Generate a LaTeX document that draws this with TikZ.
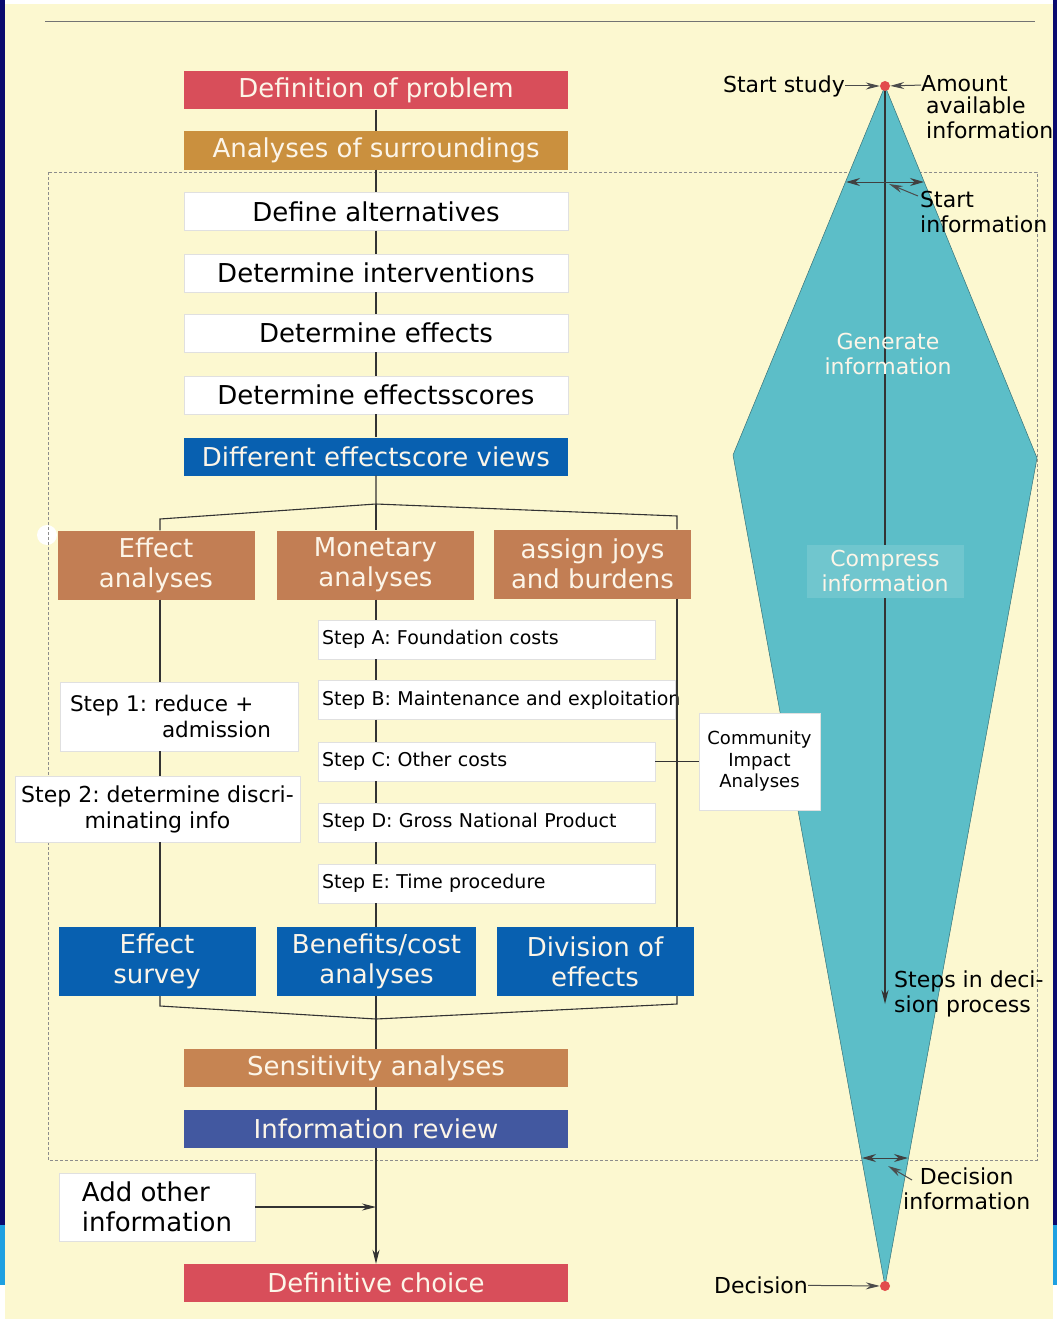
\documentclass[tikz,border=0pt]{standalone}
\usepackage{fontspec}
\setmainfont{DejaVu Sans}
\usepackage{xcolor}
\usepackage{tikz}
\usetikzlibrary{positioning,arrows.meta,shapes.misc}

\definecolor{paper}{RGB}{252,248,208}
\definecolor{probred}{RGB}{216,78,90}
\definecolor{surrgold}{RGB}{202,144,62}
\definecolor{sienna}{RGB}{194,126,84}
\definecolor{sensbrown}{RGB}{198,132,82}
\definecolor{viewblue}{RGB}{8,96,176}
\definecolor{reviewblue}{RGB}{66,88,160}
\definecolor{funnel}{RGB}{92,190,200}
\definecolor{funnellight}{RGB}{112,198,206}
\definecolor{cream}{RGB}{252,245,232}
\definecolor{dotred}{RGB}{226,76,76}
\definecolor{edgenavy}{RGB}{10,10,110}
\definecolor{edgesky}{RGB}{30,160,225}

\begin{document}
\frenchspacing
\begin{tikzpicture}[
    x=1pt, y=-1pt,
    bar/.style={rectangle, minimum width=384pt, minimum height=38pt, inner sep=0pt, text=cream, font=\fontsize{26}{30}\selectfont},
    whitebar/.style={bar, fill=white, draw=black!12, text=black},
    block/.style={rectangle, minimum width=197pt, minimum height=69pt, inner sep=0pt, align=center, text=cream, font=\fontsize{26}{30}\selectfont},
    stepbox/.style={rectangle, fill=white, draw=black!12, text width=329pt, inner xsep=4pt, minimum height=39pt, inner ysep=0pt, align=left, font=\fontsize{19}{22}\selectfont},
    whitebox/.style={rectangle, fill=white, draw=black!12, inner sep=0pt, align=center, font=\fontsize{22}{26}\selectfont},
    note/.style={inner sep=0pt, font=\fontsize{22}{25}\selectfont},
    dot/.style={circle, fill=dotred, minimum size=10pt, inner sep=0pt},
    flow/.style={line width=1.1pt, draw=black!80},
    pointer/.style={line width=1pt, draw=black!70, -{Stealth[length=14pt,width=7pt]}},
    twoway/.style={line width=1pt, draw=black!75, {Stealth[length=14pt,width=8pt]}-{Stealth[length=14pt,width=8pt]}}
]
\useasboundingbox (0,0) rectangle (1057,1319);

% paper
\fill[white] (0,0) rectangle (1057,1319);
\fill[paper] (5,4) rectangle (1053,1319);
\fill[edgenavy] (0,0) rectangle (5,1225);
\fill[edgesky] (0,1225) rectangle (5,1285);
\fill[edgenavy] (1053,0) rectangle (1057,1225);
\fill[edgesky] (1053,1225) rectangle (1057,1285);
\fill[white] (47,535) circle (10);
\draw[black!55, line width=1pt] (45,22) -- (1035,22);
\draw[black!45, dashed, dash pattern=on 3pt off 2pt, line width=0.6pt] (48,172) rectangle (1037,1160);

% funnel
\coordinate (dtop) at (885,86);
\coordinate (dright) at (1037,458);
\coordinate (dbot) at (885,1286);
\coordinate (dleft) at (733,455);
\filldraw[fill=funnel, draw=funnel!60!black, line width=0.5pt] (dtop) -- (dright) -- (dbot) -- (dleft) -- cycle;
\node[dot] (topdot) at (dtop) {};
\node[dot] (botdot) at (dbot) {};
\coordinate (stepend) at (885,1004);
\draw[flow, -{Stealth[length=14pt,width=7pt]}] (topdot) -- (stepend);
\node[note, align=center, text=cream] (generate) at (888,354) {Generate\\information};
\node[note, align=center, text=cream, fill=funnellight, minimum width=157pt, minimum height=53pt] (compress) at (885,571) {Compress\\information};
\node[note, anchor=west, align=left] (steps) at (894,994) {Steps in deci-\\sion process};

% labels round the funnel
\node[note, anchor=east] (study) at (845,86) {Start study};
\draw[pointer] (study) -- (topdot);
\node[note, anchor=west] (amount) at (921,84) {Amount};
\node[note, anchor=north west, align=left] (available) at (926,97) {available\\information};
\draw[pointer] (amount) -- (topdot);

\coordinate (siL) at (846,182);
\coordinate (siR) at (924,182);
\coordinate (siC) at (889,184);
\draw[twoway] (siL) -- (siR);
\node[note, anchor=north west, align=left] (startinfo) at (920,191) {Start\\information};
\draw[pointer] ([shift={(-2,5)}]startinfo.north west) -- (siC);

\coordinate (diL) at (862,1158);
\coordinate (diR) at (908,1158);
\coordinate (diC) at (888,1166);
\draw[twoway] (diL) -- (diR);
\node[note, anchor=north west, align=center] (decinfo) at (903,1168) {Decision\\information};
\draw[pointer] ([shift={(9,12)}]decinfo.north west) -- (diC);

\node[note, anchor=east] (decision) at (808,1285) {Decision};
\draw[pointer] (decision) -- (botdot);

% main column
\node[bar, fill=probred] (problem) at (376,90.5) {Definition of problem};
\node[bar, fill=surrgold] (surround) at (376,150.5) {Analyses of surroundings};
\node[whitebar] (altern) at (376,211.5) {Define alternatives};
\node[whitebar] (interv) at (376,273) {Determine interventions};
\node[whitebar] (effects) at (376,333) {Determine effects};
\node[whitebar] (scores) at (376,395) {Determine effectsscores};
\node[bar, fill=viewblue] (views) at (376,456.5) {Different effectscore views};

% three branches
\node[block, fill=sienna] (effana) at (156,565) {Effect\\analyses};
\node[block, fill=sienna] (monana) at (375.5,565) {Monetary\\analyses};
\node[block, fill=sienna] (joys) at (592.5,564) {assign joys\\and burdens};

% steps
\node[whitebox, text width=218pt, inner xsep=10pt, minimum height=69pt, align=left, font=\fontsize{21.5}{26}\selectfont] (step1) at (179,716.5) {Step 1: reduce +\\\hspace*{92pt}admission};
\node[whitebox, minimum width=285pt, minimum height=66pt] (step2) at (157.5,809) {Step 2: determine discri-\\minating info};
\node[stepbox] (stepA) at (486.5,639.5) {Step A: Foundation costs};
\node[stepbox, text width=349pt] (stepB) at (496.5,700) {\mbox{Step B: Maintenance and exploitation}};
\node[stepbox] (stepC) at (486.5,761.5) {Step C: Other costs};
\node[stepbox] (stepD) at (486.5,822.5) {Step D: Gross National Product};
\node[stepbox] (stepE) at (486.5,883.5) {Step E: Time procedure};
\node[whitebox, minimum width=121pt, minimum height=97pt, font=\fontsize{18}{21.5}\selectfont] (cia) at (759.5,761.5) {Community\\Impact\\Analyses};

% results
\node[block, fill=viewblue] (survey) at (157,961.5) {Effect\\survey};
\node[block, fill=viewblue, minimum width=199pt] (bencost) at (376.5,961.5) {Benefits/cost\\analyses};
\node[block, fill=viewblue] (division) at (595,961.5) {Division of\\effects};

\node[bar, fill=sensbrown] (sens) at (376,1068) {Sensitivity analyses};
\node[bar, fill=reviewblue] (review) at (376,1129) {Information review};
\node[whitebox, minimum width=196pt, minimum height=68pt, align=left, font=\fontsize{26}{30}\selectfont] (addinfo) at (157,1207) {Add other\\information};
\node[bar, fill=probred] (choice) at (376,1283) {Definitive choice};

% connectors
\draw[flow] (problem) -- (surround) -- (altern) -- (interv) -- (effects) -- (scores) -- (views);
\coordinate (split) at (376,504);
\coordinate (splitL) at (160,519);
\coordinate (splitR) at (677,516);
\draw[flow] (views) -- (split) -- (splitL) -- (splitL |- effana.north);
\draw[flow] (split) -- (splitR) -- (splitR |- joys.north);
\draw[flow] (split) -- (split |- monana.north);

\draw[flow] (effana.south -| splitL) -- (step1.north -| splitL);
\draw[flow] (step1.south -| splitL) -- (step2.north -| splitL);
\draw[flow] (step2.south -| splitL) -- (survey.north -| splitL);

\draw[flow] (monana.south -| split) -- (stepA.north -| split);
\draw[flow] (stepA.south -| split) -- (stepB.north -| split);
\draw[flow] (stepB.south -| split) -- (stepC.north -| split);
\draw[flow] (stepC.south -| split) -- (stepD.north -| split);
\draw[flow] (stepD.south -| split) -- (stepE.north -| split);
\draw[flow] (stepE.south -| split) -- (bencost.north -| split);

\draw[flow] (splitR |- joys.south) -- (splitR |- division.north);
\draw[flow] (stepC) -- (cia);

\coordinate (mergeL) at (160,1006);
\coordinate (mergeC) at (376,1019);
\coordinate (mergeR) at (677,1004);
\draw[flow] (survey.south -| splitL) -- (mergeL) -- (mergeC) -- (mergeR) -- (division.south -| splitR);
\draw[flow] (bencost.south -| split) -- (mergeC);
\draw[flow] (mergeC) -- (sens);
\draw[flow] (sens) -- (review);
\draw[flow, -{Stealth[length=14pt,width=7pt]}] (review) -- (choice);
\draw[flow, -{Stealth[length=14pt,width=7pt]}] (addinfo) -- (addinfo -| review);

\end{tikzpicture}
\end{document}
